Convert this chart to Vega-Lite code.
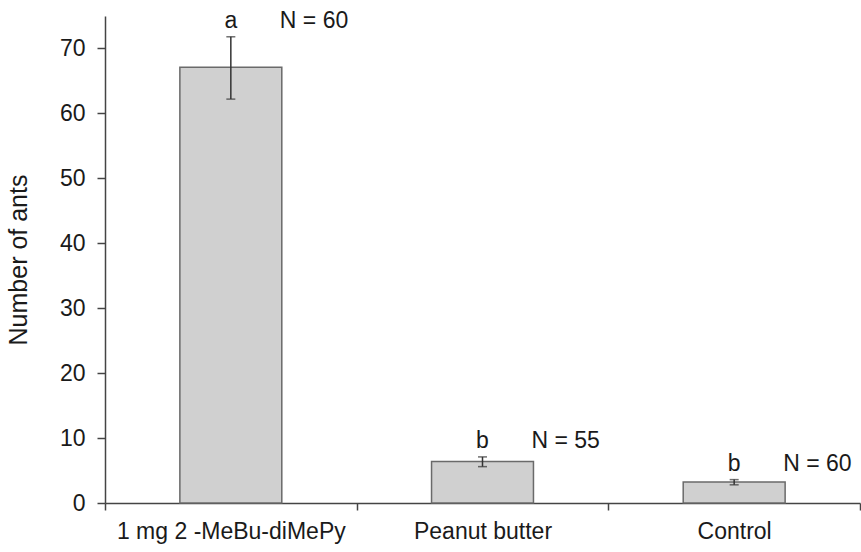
{
  "$schema": "https://vega.github.io/schema/vega-lite/v6.json",
  "width": 755,
  "height": 487,
  "autosize": "none",
  "padding": {"left": 105, "top": 16, "right": 1, "bottom": 49},
  "background": "white",
  "config": {
    "view": {"stroke": null},
    "font": "Liberation Sans",
    "axis": {
      "labelFont": "Liberation Sans",
      "titleFont": "Liberation Sans",
      "labelColor": "#1a1a1a",
      "titleColor": "#1a1a1a",
      "domainColor": "#444444",
      "tickColor": "#444444",
      "domainWidth": 1.5,
      "tickWidth": 1.5,
      "grid": false
    }
  },
  "data": {
    "values": [
      {"treatment": "1 mg 2 -MeBu-diMePy", "mean": 67.1, "lo": 62.2, "hi": 71.8, "letter": "a", "nlabel": "N = 60"},
      {"treatment": "Peanut butter", "mean": 6.4, "lo": 5.6, "hi": 7.1, "letter": "b", "nlabel": "N = 55"},
      {"treatment": "Control", "mean": 3.25, "lo": 2.8, "hi": 3.6, "letter": "b", "nlabel": "N = 60"}
    ]
  },
  "encoding": {
    "x": {
      "field": "treatment",
      "type": "nominal",
      "sort": null,
      "scale": {"paddingInner": 0, "paddingOuter": 0},
      "axis": {
        "title": null,
        "labelAngle": 0,
        "labelFontSize": 23,
        "labelLimit": 0,
        "labelPadding": 10,
        "tickSize": 7,
        "tickBand": "extent"
      }
    }
  },
  "layer": [
    {
      "mark": {"type": "bar", "width": {"band": 0.405}, "fill": "#d0d0d0", "stroke": "#6a6a6a", "strokeWidth": 1.5},
      "encoding": {
        "y": {
          "field": "mean",
          "type": "quantitative",
          "scale": {"domain": [0, 75], "nice": false, "zero": true},
          "axis": {
            "title": "Number of ants",
            "values": [0, 10, 20, 30, 40, 50, 60, 70],
            "labelFontSize": 23,
            "titleFontSize": 25,
            "titleFontWeight": "normal",
            "tickSize": 8,
            "labelPadding": 12,
            "titlePadding": 28
          }
        }
      }
    },
    {
      "mark": {"type": "rule", "color": "#333333", "strokeWidth": 1.5},
      "encoding": {
        "y": {"field": "lo", "type": "quantitative"},
        "y2": {"field": "hi"}
      }
    },
    {
      "mark": {"type": "tick", "color": "#333333", "size": 9, "thickness": 1.5},
      "encoding": {"y": {"field": "lo", "type": "quantitative"}}
    },
    {
      "mark": {"type": "tick", "color": "#333333", "size": 9, "thickness": 1.5},
      "encoding": {"y": {"field": "hi", "type": "quantitative"}}
    },
    {
      "mark": {"type": "text", "fontSize": 23, "color": "#1a1a1a", "baseline": "alphabetic", "align": "center", "dy": -9},
      "encoding": {
        "y": {"field": "hi", "type": "quantitative"},
        "text": {"field": "letter"}
      }
    },
    {
      "mark": {"type": "text", "fontSize": 23, "color": "#1a1a1a", "baseline": "alphabetic", "align": "left", "dx": 49, "dy": -9},
      "encoding": {
        "y": {"field": "hi", "type": "quantitative"},
        "text": {"field": "nlabel"}
      }
    }
  ]
}
